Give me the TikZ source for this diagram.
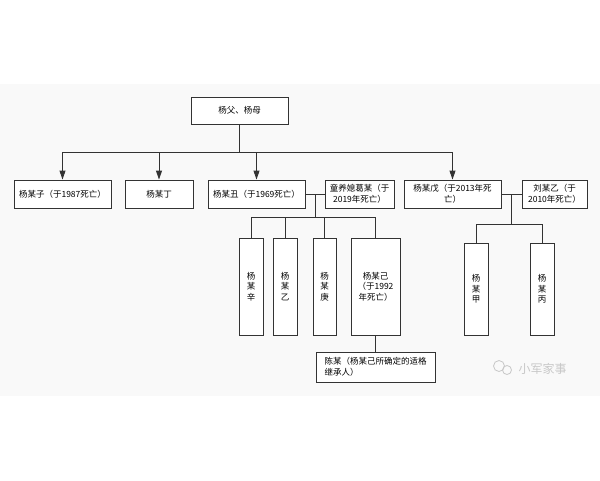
\documentclass[tikz,border=0pt]{standalone}
\usepackage{fontspec}
\newfontfamily\cjk{Noto Sans CJK SC}
\usetikzlibrary{arrows.meta}
\definecolor{linegray}{RGB}{51,51,51}
\definecolor{bggray}{RGB}{249,249,249}
\definecolor{markgray}{RGB}{200,200,200}
\tikzset{every picture/.style={line width=0.75pt}}
\tikzset{
  person/.style={draw=linegray, line width=0.9pt, fill=white, rectangle, inner sep=1pt,
    align=center, font=\cjk\fontsize{8.5}{10.5}\selectfont, text=black},
  wire/.style={draw=linegray, line width=0.9pt},
  arr/.style={wire, -{Triangle[length=9pt,width=6pt]}}
}

\begin{document}
\begin{tikzpicture}[x=1pt,y=1pt,yscale=-1,xscale=1]
\useasboundingbox (0,0) rectangle (600,480);
%background
\fill[bggray] (0,84) rectangle (600,396);

% Text Node
\node [person, minimum width=97, minimum height=27] (parents) at (239.5,110.5) {杨父、杨母};
% Text Node
\node [person, minimum width=97, minimum height=28] (zi) at (62.5,194) {杨某子（于1987死亡）};
% Text Node
\node [person, minimum width=68, minimum height=28] (ding) at (159,194) {杨某丁};
% Text Node
\node [person, minimum width=97, minimum height=28] (chou) at (256.5,194) {杨某丑（于1969死亡）};
% Text Node
\node [person, minimum width=69, minimum height=28] (tong) at (359.5,194) {童养媳葛某（于\\2019年死亡）};
% Text Node
\node [person, minimum width=97, minimum height=28] (wu) at (452.5,194) {杨某戊（于2013年死\\亡）};
% Text Node
\node [person, minimum width=65, minimum height=28] (liu) at (554.5,194) {刘某乙（于\\2010年死亡）};

% Text Node
\node [person, minimum width=24, minimum height=97] (xin) at (251,286.5) {杨\\某\\辛};
% Text Node
\node [person, minimum width=24, minimum height=97] (yi) at (285,286.5) {杨\\某\\乙};
% Text Node
\node [person, minimum width=23, minimum height=97] (geng) at (324.5,286.5) {杨\\某\\庚};
% Text Node
\node [person, minimum width=49, minimum height=97] (ji) at (375.5,286.5) {杨某己\\（于1992\\年死亡）};
% Text Node
\node [person, minimum width=119, minimum height=30, align=left] (chen) at (375.5,367) {陈某（杨某己所确定的适格\\继承人）};

% Text Node
\node [person, minimum width=24, minimum height=92] (jia) at (476,289) {杨\\某\\甲};
% Text Node
\node [person, minimum width=24, minimum height=92] (bing) at (542,289) {杨\\某\\丙};

%Straight Lines
\coordinate (bus) at (239.5,152);
\draw [wire] (parents.south) -- (bus);
\draw [wire] (zi.north |- bus) -- (wu.north |- bus);
\draw [arr] (zi.north |- bus) -- (zi.north);
\draw [arr] (ding.north |- bus) -- (ding.north);
\draw [arr] (chou.north |- bus) -- (chou.north);
\draw [arr] (wu.north |- bus) -- (wu.north);

%Straight Lines
\coordinate (wedA) at (315,194);
\coordinate (kidsA) at (315,217);
\draw [wire] (chou.east) -- (tong.west);
\draw [wire] (wedA) -- (kidsA);
\draw [wire] (xin.north |- kidsA) -- (ji.north |- kidsA);
\foreach \kid in {xin,yi,geng,ji}
  \draw [wire] (\kid.north |- kidsA) -- (\kid.north);
\draw [wire] (ji.south) -- (chen.north);

%Straight Lines
\coordinate (wedB) at (511.5,194);
\coordinate (kidsB) at (511.5,224);
\draw [wire] (wu.east) -- (liu.west);
\draw [wire] (wedB) -- (kidsB);
\draw [wire] (jia.north |- kidsB) -- (bing.north |- kidsB);
\foreach \kid in {jia,bing}
  \draw [wire] (\kid.north |- kidsB) -- (\kid.north);

% watermark
\draw [markgray, line width=0.8pt] (499,366) circle [radius=5.5];
\draw [markgray, line width=0.8pt] (507,370) circle [radius=4.5];
\node [text=markgray, font=\cjk\fontsize{12}{14}\selectfont, anchor=west] (mark) at (515,369) {小军家事};

\end{tikzpicture}
\end{document}
